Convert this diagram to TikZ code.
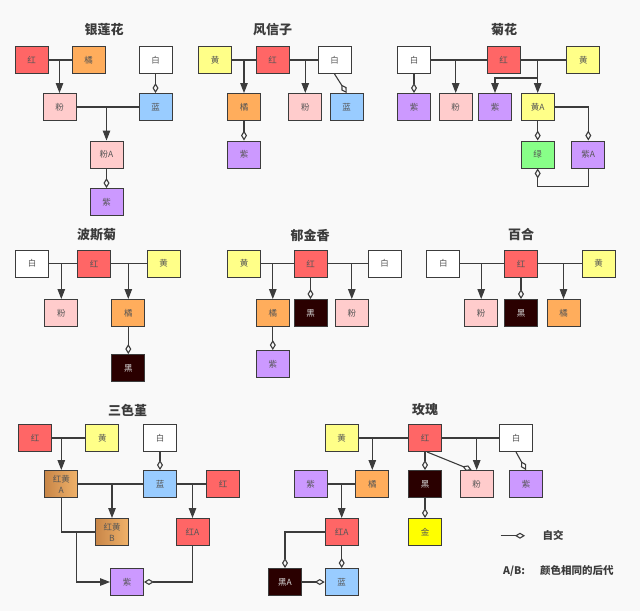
\documentclass[tikz,border=0pt]{standalone}
\usepackage{fontspec}
\setmainfont{Noto Sans CJK SC}
\usetikzlibrary{arrows.meta}
\definecolor{hong}{RGB}{255,102,102}
\definecolor{ju}{RGB}{255,173,92}
\definecolor{huang}{RGB}{255,255,136}
\definecolor{bai}{RGB}{255,255,255}
\definecolor{fen}{RGB}{255,204,204}
\definecolor{lan}{RGB}{153,204,255}
\definecolor{zi}{RGB}{204,153,255}
\definecolor{lv}{RGB}{136,255,136}
\definecolor{hei}{RGB}{42,0,0}
\definecolor{jin}{RGB}{255,255,0}
\definecolor{hjdark}{RGB}{200,134,72}
\definecolor{hjlight}{RGB}{240,178,106}
\definecolor{bg}{RGB}{249,249,249}
\definecolor{ink}{RGB}{60,60,60}
\definecolor{label}{RGB}{85,85,85}

\begin{document}
\begin{tikzpicture}[x=1pt,y=-1pt,
  box/.style={draw=ink, line width=0.9pt, minimum width=33pt, minimum height=27pt,
    inner sep=1pt, align=center, text=label, font=\fontsize{8.5}{10}\selectfont},
  fhong/.style={box, fill=hong}, fju/.style={box, fill=ju},
  fhuang/.style={box, fill=huang}, fbai/.style={box, fill=bai},
  ffen/.style={box, fill=fen}, flan/.style={box, fill=lan},
  fzi/.style={box, fill=zi}, flv/.style={box, fill=lv},
  fhei/.style={box, fill=hei, text=white!85!black}, fjin/.style={box, fill=jin},
  fhj/.style={box, left color=hjdark, right color=hjlight},
  title/.style={font=\fontsize{13}{14}\selectfont\bfseries, text=ink},
  legend/.style={font=\fontsize{10.5}{12}\selectfont\bfseries, text=ink},
  mate/.style={draw=ink, line width=1.1pt},
  cross/.style={mate, -{Triangle[length=10pt,width=7.5pt]}},
  self/.style={mate, -{Diamond[open,length=10pt,width=6pt]}}]
\fill[bg] (0,0) rectangle (640,611);
\useasboundingbox (0,0) rectangle (640,611);

% 银莲花
\node[title] (t1) at (104,30) {银莲花};
\node[fhong] (a-hong) at (31.5,60) {红};
\node[fju] (a-ju) at (88.5,60) {橘};
\node[fbai] (a-bai) at (155.5,60) {白};
\node[ffen] (a-fen) at (59.5,107) {粉};
\node[flan] (a-lan) at (155.5,107) {蓝};
\node[ffen] (a-fenA) at (106.5,154.5) {粉A};
\node[fzi] (a-zi) at (106.5,202) {紫};
\draw[mate] (a-hong) -- (a-ju);
\draw[cross] (a-fen |- a-hong) -- (a-fen);
\draw[self] (a-bai) -- (a-lan);
\draw[mate] (a-fen) -- (a-lan);
\draw[cross] (a-fenA |- a-fen) -- (a-fenA);
\draw[self] (a-fenA) -- (a-zi);

% 风信子
\node[title] (t2) at (272.7,30) {风信子};
\node[fhuang] (b-huang) at (215,60) {黄};
\node[fhong] (b-hong) at (272.5,60) {红};
\node[fbai] (b-bai) at (334.5,60) {白};
\node[fju] (b-ju) at (244,107) {橘};
\node[ffen] (b-fen) at (305.3,107) {粉};
\node[flan] (b-lan) at (346.7,107) {蓝};
\node[fzi] (b-zi) at (244,154.5) {紫};
\draw[mate] (b-huang) -- (b-hong);
\draw[cross] (b-ju |- b-hong) -- (b-ju);
\draw[mate] (b-hong) -- (b-bai);
\draw[cross] (b-fen |- b-hong) -- (b-fen);
\draw[self] (b-bai.south) -- (b-lan.north);
\draw[self] (b-ju) -- (b-zi);

% 菊花
\node[title] (t3) at (504,30) {菊花};
\node[fbai] (c-bai) at (414,60) {白};
\node[fhong] (c-hong) at (503.7,60) {红};
\node[fhuang] (c-huang) at (583.3,60) {黄};
\node[fzi] (c-zi) at (414,107) {紫};
\node[ffen] (c-fen) at (455.7,107) {粉};
\node[fzi] (c-zi2) at (495,107) {紫};
\node[fhuang] (c-huangA) at (537.7,107) {黄A};
\node[flv] (c-lv) at (537.7,154.5) {绿};
\node[fzi] (c-ziA) at (588.3,154.5) {紫A};
\draw[mate] (c-bai) -- (c-hong);
\draw[cross] (c-fen |- c-hong) -- (c-fen);
\draw[mate] (c-hong) -- (c-huang);
\draw[cross] (c-huangA |- c-hong) -- (c-huangA);
\draw[cross] (c-huangA |- c-hong) -- ++(0,18) -| (c-zi2);
\draw[self] (c-bai) -- (c-zi);
\draw[self] (c-huangA) -- (c-lv);
\draw[self] (c-huangA) -| (c-ziA);
\draw[self] (c-ziA.south) -- ++(0,18) -| (c-lv.south);

% 波斯菊
\node[title] (t4) at (96.7,235) {波斯菊};
\node[fbai] (d-bai) at (32,263.7) {白};
\node[fhong] (d-hong) at (94,263.7) {红};
\node[fhuang] (d-huang) at (163.5,263.7) {黄};
\node[ffen] (d-fen) at (61.3,313) {粉};
\node[fju] (d-ju) at (128.3,313) {橘};
\node[fhei] (d-hei) at (128.3,368) {黑};
\draw[mate] (d-bai) -- (d-hong);
\draw[cross] (d-fen |- d-hong) -- (d-fen);
\draw[mate] (d-hong) -- (d-huang);
\draw[cross] (d-ju |- d-hong) -- (d-ju);
\draw[self] (d-ju) -- (d-hei);

% 郁金香
\node[title] (t5) at (310,235) {郁金香};
\node[fhuang] (e-huang) at (244,263.7) {黄};
\node[fhong] (e-hong) at (310.5,263.7) {红};
\node[fbai] (e-bai) at (384.7,263.7) {白};
\node[fju] (e-ju) at (272.8,313) {橘};
\node[fhei] (e-hei) at (310.5,313) {黑};
\node[ffen] (e-fen) at (351.8,313) {粉};
\node[fzi] (e-zi) at (272.8,364) {紫};
\draw[mate] (e-huang) -- (e-hong);
\draw[cross] (e-ju |- e-hong) -- (e-ju);
\draw[mate] (e-hong) -- (e-bai);
\draw[cross] (e-fen |- e-hong) -- (e-fen);
\draw[self] (e-hong) -- (e-hei);
\draw[self] (e-ju) -- (e-zi);

% 百合
\node[title] (t6) at (521,235) {百合};
\node[fbai] (f-bai) at (443.3,263.7) {白};
\node[fhong] (f-hong) at (521,263.7) {红};
\node[fhuang] (f-huang) at (598.7,263.7) {黄};
\node[ffen] (f-fen) at (481.2,313) {粉};
\node[fhei] (f-hei) at (521,313) {黑};
\node[fju] (f-ju) at (563.5,313) {橘};
\draw[mate] (f-bai) -- (f-hong);
\draw[cross] (f-fen |- f-hong) -- (f-fen);
\draw[mate] (f-hong) -- (f-huang);
\draw[cross] (f-ju |- f-hong) -- (f-ju);
\draw[self] (f-hong) -- (f-hei);

% 三色堇
\node[title] (t7) at (127.7,410) {三色堇};
\node[fhong] (g-hong) at (35,438) {红};
\node[fhuang] (g-huang) at (102.3,438) {黄};
\node[fbai] (g-bai) at (160,438) {白};
\node[fhj, font=\fontsize{8.5}{11}\selectfont] (g-hjA) at (61.3,484) {红黄\\A};
\node[flan] (g-lan) at (160,484) {蓝};
\node[fhong] (g-hong2) at (223,484) {红};
\node[fhj, font=\fontsize{8.5}{11}\selectfont] (g-hjB) at (112,532) {红黄\\B};
\node[fhong] (g-hongA) at (192.5,532) {红A};
\node[fzi] (g-zi) at (127,582) {紫};
\coordinate (g-join) at (76.3,532);
\draw[mate] (g-hong) -- (g-huang);
\draw[cross] (g-hjA |- g-hong) -- (g-hjA);
\draw[self] (g-bai) -- (g-lan);
\draw[mate] (g-hjA) -- (g-lan);
\draw[cross] (g-hjB |- g-hjA) -- (g-hjB);
\draw[mate] (g-lan) -- (g-hong2);
\draw[cross] (g-hongA |- g-lan) -- (g-hongA);
\draw[mate] (g-hjA) |- (g-hjB);
\draw[cross] (g-join) |- (g-zi);
\draw[self] (g-hongA) |- (g-zi);

% 玫瑰
\node[title] (t8) at (425,410) {玫瑰};
\node[fhuang] (h-huang) at (341.7,438) {黄};
\node[fhong] (h-hong) at (425,438) {红};
\node[fbai] (h-bai) at (516,438) {白};
\node[fzi] (h-zi) at (310.7,484) {紫};
\node[fju] (h-ju) at (372.3,484) {橘};
\node[fhei] (h-hei) at (425,484) {黑};
\node[ffen] (h-fen) at (476.7,484) {粉};
\node[fzi] (h-zi2) at (526,484) {紫};
\node[fhong] (h-hongA) at (341.7,532) {红A};
\node[fjin] (h-jin) at (425,532) {金};
\node[fhei] (h-heiA) at (285,582) {黑A};
\node[flan] (h-lan) at (341.7,582) {蓝};
\draw[mate] (h-huang) -- (h-hong);
\draw[cross] (h-ju |- h-hong) -- (h-ju);
\draw[mate] (h-hong) -- (h-bai);
\draw[cross] (h-fen |- h-hong) -- (h-fen);
\draw[self] (h-hong) -- (h-hei);
\draw[self] ([xshift=2pt]h-hong.south) -- ([xshift=-5pt]h-fen.north);
\draw[self] (h-bai.south) -- (h-zi2.north);
\draw[mate] (h-zi) -- (h-ju);
\draw[cross] (h-hongA |- h-zi) -- (h-hongA);
\draw[self] (h-hei) -- (h-jin);
\draw[self] (h-hongA) -| (h-heiA);
\draw[self] (h-hongA) -- (h-lan);
\draw[self] (h-heiA) -- (h-lan);

% 图例
\coordinate (k-from) at (500.7,535.7);
\coordinate (k-to) at (525,535.7);
\draw[self] (k-from) -- (k-to);
\node[legend] (k-self) at (553,535.7) {自交};
\node[legend, anchor=west, inner sep=0pt] (k-ab) at (503,570.7) {A/B:};
\node[legend, anchor=west, inner sep=0pt] (k-same) at (540,570.7) {颜色相同的后代};
\end{tikzpicture}
\end{document}
